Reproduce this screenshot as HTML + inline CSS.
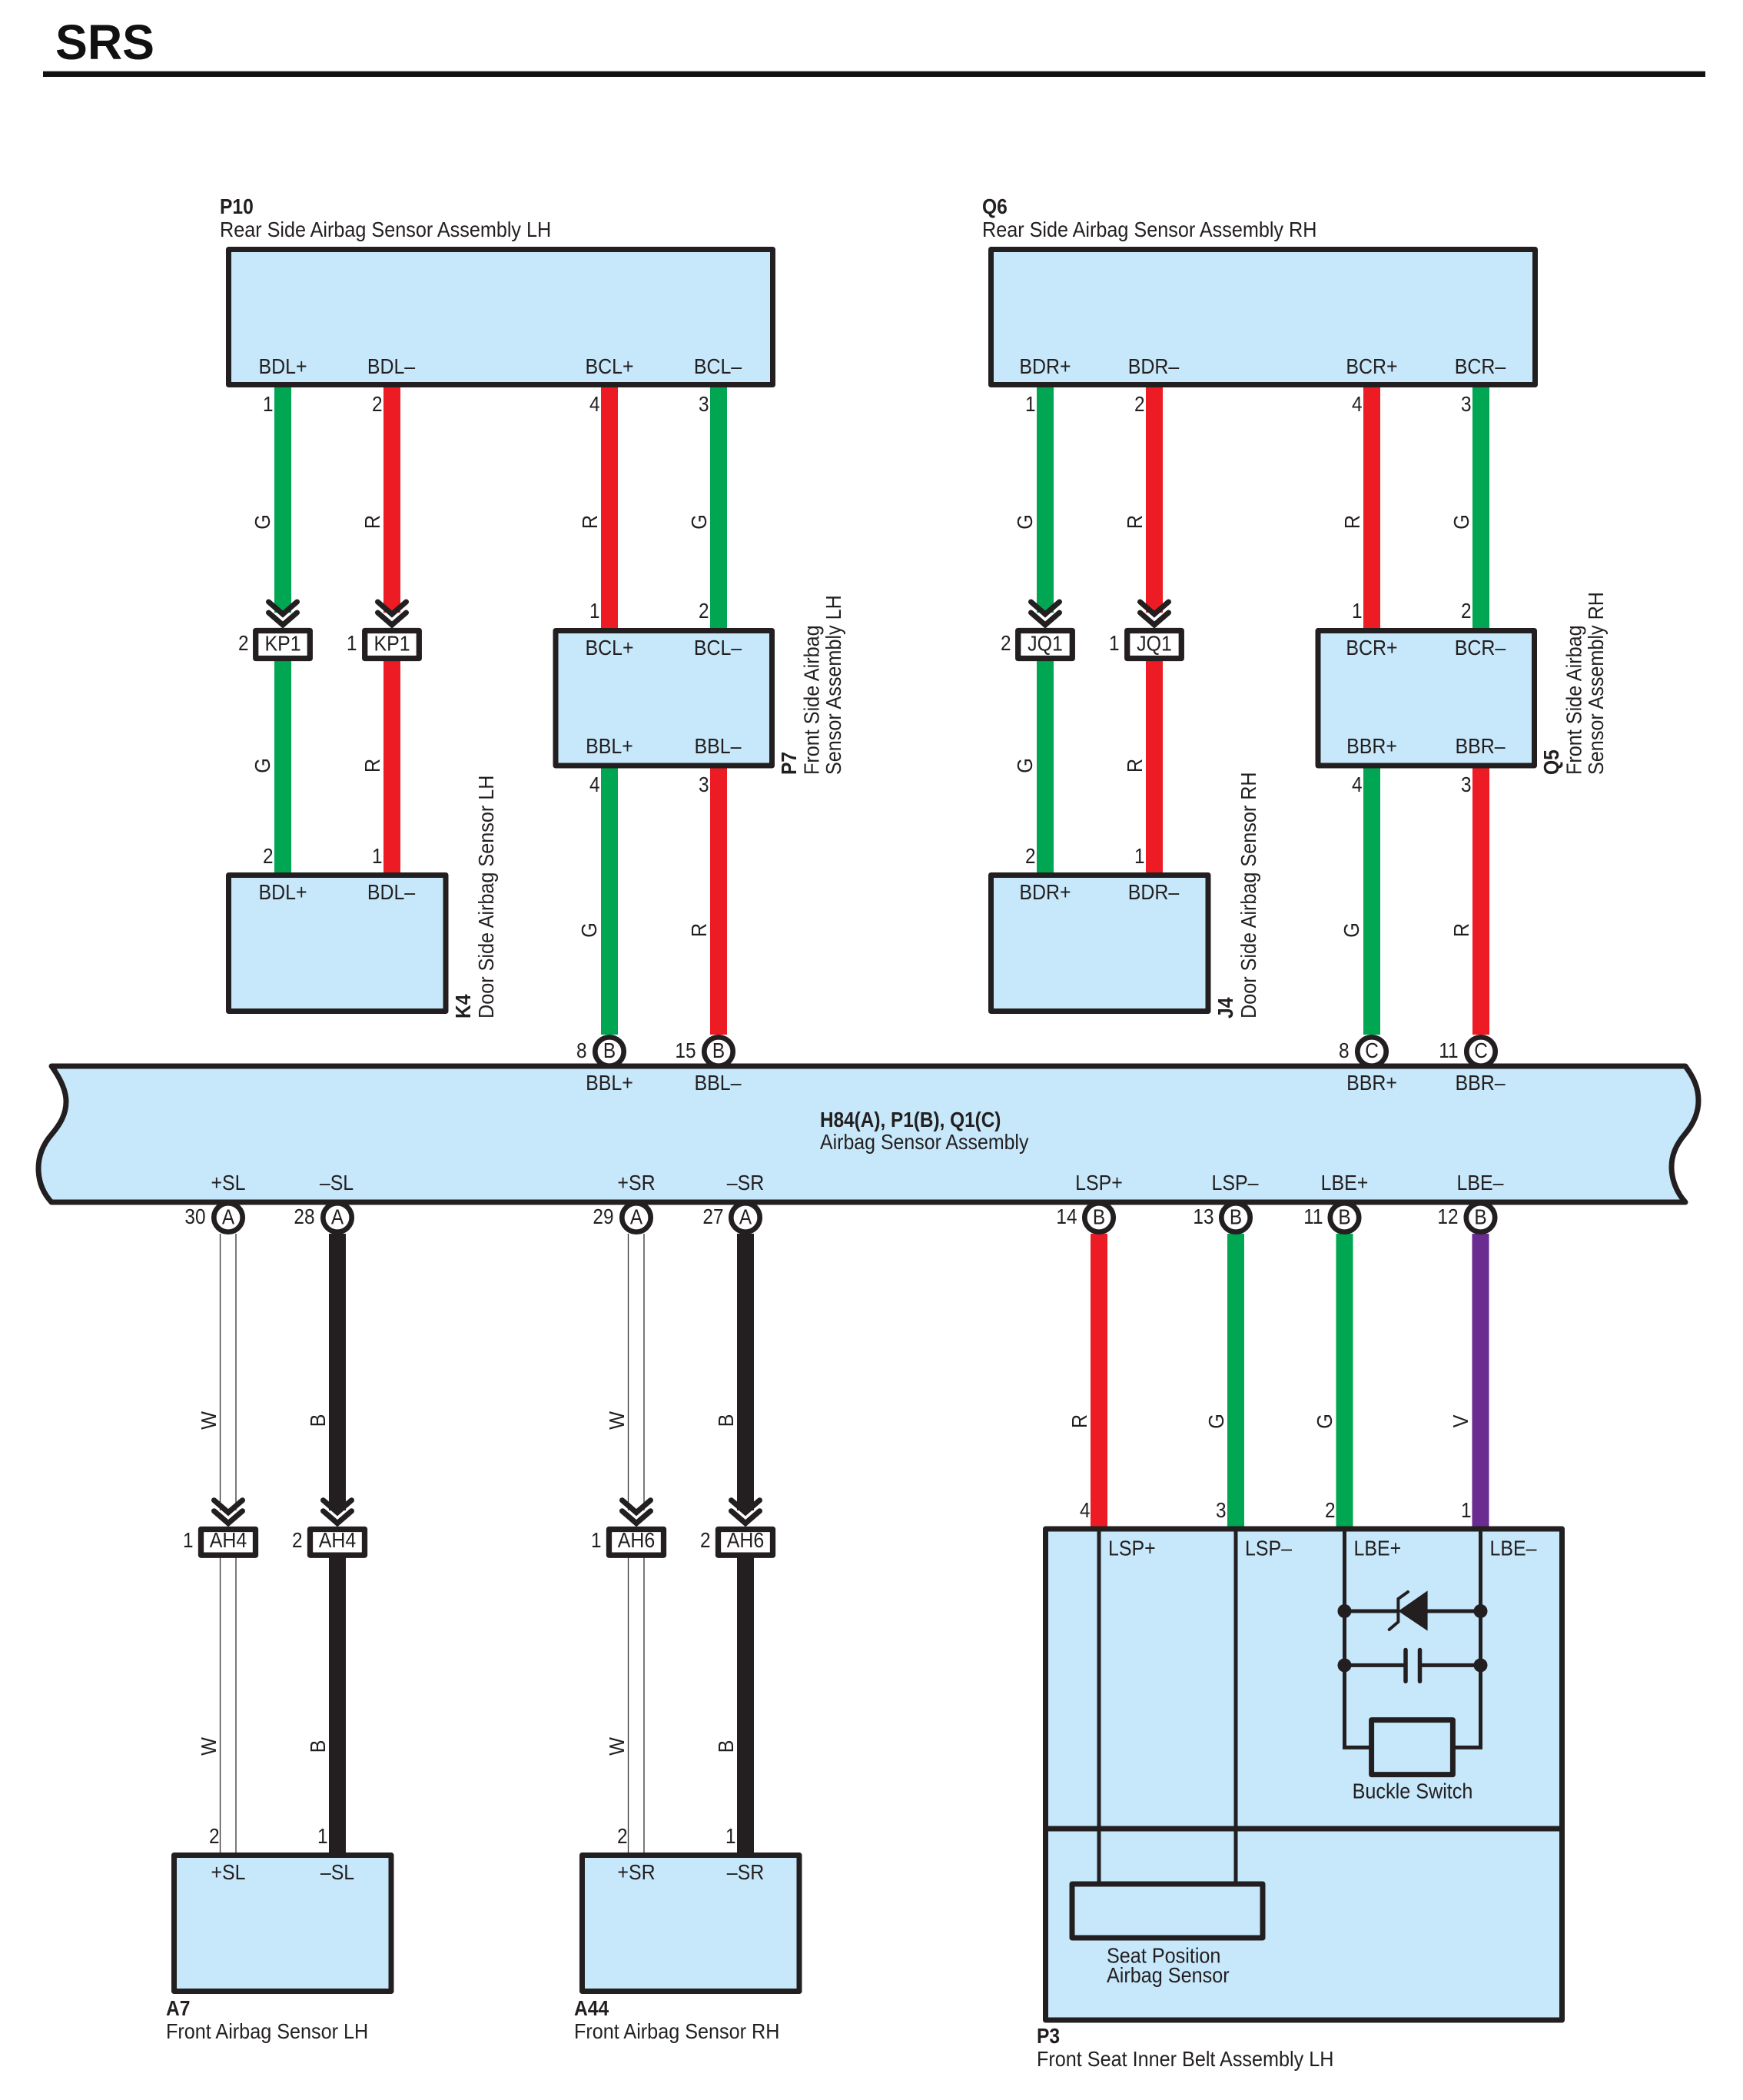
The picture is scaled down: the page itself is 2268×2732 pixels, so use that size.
<!DOCTYPE html>
<html><head><meta charset="utf-8"><title>SRS</title>
<style>
html,body{margin:0;padding:0;background:#fff}
svg{display:block}
text{font-family:"Liberation Sans",sans-serif;font-size:28px;fill:#231f20}
.m{text-anchor:middle}.e{text-anchor:end}.b{font-weight:bold}
.bx{fill:#c7e8fa;stroke:#231f20;stroke-width:7;stroke-linejoin:round}
.cn{fill:#fff;stroke:#231f20;stroke-width:7.3;stroke-linejoin:round}
.t{fill:#fff;stroke:#231f20;stroke-width:6.7}
.g{stroke:#00a651;stroke-width:22}.r{stroke:#ed1c24;stroke-width:22}.k{stroke:#231f20;stroke-width:22}.v{stroke:#6b2c91;stroke-width:22}
.w{stroke:#333;stroke-width:1.3}
.i{stroke:#231f20;stroke-width:5;fill:none}
</style></head><body>
<svg xmlns="http://www.w3.org/2000/svg" width="2268" height="2732" viewBox="0 0 2268 2732">
<defs>
<g id="c" fill="none" stroke="#231f20" stroke-width="7" stroke-linecap="round"><path d="M-18.5 -34L0 -18L18.5 -34"/><path d="M-18.5 -20L0 -4L18.5 -20"/></g>
</defs>
<rect width="2268" height="2732" fill="#fff"/>
<text class="b" transform="matrix(.98 0 0 1 72 77)" style="font-size:64px;fill:#111">SRS</text>
<rect x="56" y="92.7" width="2163" height="7.3" fill="#111"/>

<!-- wires -->
<path class="g" d="M368 504V797M368 860V1135M1360 504V797M1360 860V1135M793 999V1346M935 504V817M1785 999V1346M1927 504V817M1608 1605V1986M1749.5 1605V1986"/>
<path class="r" d="M510 504V797M510 860V1135M1502 504V797M1502 860V1135M793 504V817M935 999V1346M1785 504V817M1927 999V1346M1430 1605V1986"/>
<path class="k" d="M439 1605V1965M439 2026V2410M970 1605V1965M970 2026V2410"/>
<path class="v" d="M1926.5 1605V1986"/>
<path class="w" d="M286.5 1605V1965M307 1605V1965M286.5 2026V2410M307 2026V2410M817.5 1605V1965M838 1605V1965M817.5 2026V2410M838 2026V2410"/>

<!-- chevrons -->
<use href="#c" x="368" y="817"/><use href="#c" x="510" y="817"/><use href="#c" x="1360" y="817"/><use href="#c" x="1502" y="817"/>
<use href="#c" x="297" y="1985.7"/><use href="#c" x="439" y="1985.7"/><use href="#c" x="828" y="1985.7"/><use href="#c" x="970" y="1985.7"/>

<!-- inline connectors -->
<rect class="cn" x="332.7" y="820.5" width="70.6" height="36"/><rect class="cn" x="474.7" y="820.5" width="70.6" height="36"/>
<rect class="cn" x="1324.7" y="820.5" width="70.6" height="36"/><rect class="cn" x="1466.7" y="820.5" width="70.6" height="36"/>
<rect class="cn" x="261.5" y="1989.5" width="71" height="33.7"/><rect class="cn" x="403.5" y="1989.5" width="71" height="33.7"/>
<rect class="cn" x="792.5" y="1989.5" width="71" height="33.7"/><rect class="cn" x="934.5" y="1989.5" width="71" height="33.7"/>

<!-- terminals -->
<circle class="t" cx="793" cy="1368" r="18.7"/><circle class="t" cx="935" cy="1368" r="18.7"/><circle class="t" cx="1785" cy="1368" r="18.7"/><circle class="t" cx="1927" cy="1368" r="18.7"/>
<circle class="t" cx="297" cy="1584" r="18.7"/><circle class="t" cx="439" cy="1584" r="18.7"/><circle class="t" cx="828" cy="1584" r="18.7"/><circle class="t" cx="970" cy="1584" r="18.7"/><circle class="t" cx="1430" cy="1584" r="18.7"/><circle class="t" cx="1608" cy="1584" r="18.7"/><circle class="t" cx="1749.5" cy="1584" r="18.7"/><circle class="t" cx="1926.5" cy="1584" r="18.7"/>

<!-- boxes -->
<rect class="bx" x="297.5" y="324.5" width="708" height="176"/>
<rect class="bx" x="1289.5" y="324.5" width="708" height="176"/>
<rect class="bx" x="723" y="820.5" width="281.5" height="175.5"/>
<rect class="bx" x="1715" y="820.5" width="281.5" height="175.5"/>
<rect class="bx" x="297.5" y="1138.5" width="282.5" height="177"/>
<rect class="bx" x="1289.5" y="1138.5" width="282.5" height="177"/>
<rect class="bx" x="226.5" y="2413.5" width="282.5" height="177"/>
<rect class="bx" x="757.5" y="2413.5" width="282.5" height="177"/>
<path class="bx" d="M67 1387C80 1405 86 1420 86 1433C86 1450 78 1463 67 1476C55 1490 50 1505 50 1520C50 1538 56 1552 67 1564L2193 1564C2182 1552 2175 1535 2175 1518C2175 1503 2181 1489 2192 1476C2203 1463 2210 1449 2210 1432C2210 1415 2204 1402 2193 1387Z"/>

<!-- P3 -->
<rect class="bx" x="1360.5" y="1989" width="672" height="639"/>
<path class="bx" style="fill:none" d="M1360.5 2379H2032.5"/>
<path class="i" d="M1430 1989V2451M1608 1989V2451M1749.5 1989V2273.4H1784.6M1926.5 1989V2273.4H1890.4M1749.5 2096H1819M1857 2096H1926.5M1749.5 2166.4H1829M1847.5 2166.4H1926.5"/>
<rect class="bx" x="1395" y="2451" width="248" height="70"/>
<rect class="bx" x="1784.6" y="2237.6" width="105.8" height="71"/>
<circle cx="1749.5" cy="2096" r="9" fill="#231f20"/><circle cx="1926.5" cy="2096" r="9" fill="#231f20"/><circle cx="1749.5" cy="2166.4" r="9" fill="#231f20"/><circle cx="1926.5" cy="2166.4" r="9" fill="#231f20"/>
<path d="M1857.6 2069.4V2121.6L1819.4 2096Z" fill="#231f20"/>
<path d="M1832 2071L1819.4 2080V2110L1807.7 2120" fill="none" stroke="#231f20" stroke-width="4" stroke-linecap="round"/>
<path d="M1829 2146.5V2187.3M1847.5 2146.5V2187.3" stroke="#231f20" stroke-width="5.5" stroke-linecap="round"/>

<!-- titles -->
<text class="b" transform="matrix(.88 0 0 1 286 278)">P10</text>
<text transform="matrix(.9 0 0 1 286 308)">Rear Side Airbag Sensor Assembly LH</text>
<text class="b" transform="matrix(.88 0 0 1 1278 278)">Q6</text>
<text transform="matrix(.9 0 0 1 1278 308)">Rear Side Airbag Sensor Assembly RH</text>
<text class="b" transform="matrix(.87 0 0 1 1067 1466)">H84(A), P1(B), Q1(C)</text>
<text transform="matrix(.89 0 0 1 1067 1495)">Airbag Sensor Assembly</text>
<text class="b" transform="matrix(.88 0 0 1 216 2622)">A7</text>
<text transform="matrix(.9 0 0 1 216 2652)">Front Airbag Sensor LH</text>
<text class="b" transform="matrix(.88 0 0 1 747 2622)">A44</text>
<text transform="matrix(.9 0 0 1 747 2652)">Front Airbag Sensor RH</text>
<text class="b" transform="matrix(.88 0 0 1 1349 2658)">P3</text>
<text transform="matrix(.9 0 0 1 1349 2688)">Front Seat Inner Belt Assembly LH</text>
<text transform="matrix(.9 0 0 1 1440 2553.5)">Seat Position</text>
<text transform="matrix(.9 0 0 1 1440 2579)">Airbag Sensor</text>
<text class="m" transform="matrix(.9 0 0 1 1838 2339.5)">Buckle Switch</text>

<!-- rotated titles -->
<text class="b" transform="matrix(0 -.88 1 0 612 1325)">K4</text>
<text transform="matrix(0 -.9 1 0 642 1325)">Door Side Airbag Sensor LH</text>
<text class="b" transform="matrix(0 -.88 1 0 1604 1325)">J4</text>
<text transform="matrix(0 -.9 1 0 1634 1325)">Door Side Airbag Sensor RH</text>
<text class="b" transform="matrix(0 -.88 1 0 1036 1008)">P7</text>
<text transform="matrix(0 -.9 1 0 1065.5 1008)">Front Side Airbag</text>
<text transform="matrix(0 -.9 1 0 1094 1008)">Sensor Assembly LH</text>
<text class="b" transform="matrix(0 -.88 1 0 2028 1008)">Q5</text>
<text transform="matrix(0 -.9 1 0 2057.5 1008)">Front Side Airbag</text>
<text transform="matrix(0 -.9 1 0 2086 1008)">Sensor Assembly RH</text>

<!-- signal labels, top boxes -->
<g class="m">
<text class="m" transform="matrix(.89 0 0 1 368 486)">BDL+</text><text class="m" transform="matrix(.89 0 0 1 509 486)">BDL–</text><text class="m" transform="matrix(.89 0 0 1 793 486)">BCL+</text><text class="m" transform="matrix(.89 0 0 1 934 486)">BCL–</text>
<text class="m" transform="matrix(.89 0 0 1 1360 486)">BDR+</text><text class="m" transform="matrix(.89 0 0 1 1501 486)">BDR–</text><text class="m" transform="matrix(.89 0 0 1 1785 486)">BCR+</text><text class="m" transform="matrix(.89 0 0 1 1926 486)">BCR–</text>
<text class="m" transform="matrix(.89 0 0 1 793 852)">BCL+</text><text class="m" transform="matrix(.89 0 0 1 934 852)">BCL–</text><text class="m" transform="matrix(.89 0 0 1 793 980)">BBL+</text><text class="m" transform="matrix(.89 0 0 1 934 980)">BBL–</text>
<text class="m" transform="matrix(.89 0 0 1 1785 852)">BCR+</text><text class="m" transform="matrix(.89 0 0 1 1926 852)">BCR–</text><text class="m" transform="matrix(.89 0 0 1 1785 980)">BBR+</text><text class="m" transform="matrix(.89 0 0 1 1926 980)">BBR–</text>
<text class="m" transform="matrix(.89 0 0 1 368 1170)">BDL+</text><text class="m" transform="matrix(.89 0 0 1 509 1170)">BDL–</text><text class="m" transform="matrix(.89 0 0 1 1360 1170)">BDR+</text><text class="m" transform="matrix(.89 0 0 1 1501 1170)">BDR–</text>
<text class="m" transform="matrix(.89 0 0 1 793 1418)">BBL+</text><text class="m" transform="matrix(.89 0 0 1 934 1418)">BBL–</text><text class="m" transform="matrix(.89 0 0 1 1785 1418)">BBR+</text><text class="m" transform="matrix(.89 0 0 1 1926 1418)">BBR–</text>
<text class="m" transform="matrix(.89 0 0 1 297 1548)">+SL</text><text class="m" transform="matrix(.89 0 0 1 438 1548)">–SL</text><text class="m" transform="matrix(.89 0 0 1 828 1548)">+SR</text><text class="m" transform="matrix(.89 0 0 1 970 1548)">–SR</text>
<text class="m" transform="matrix(.89 0 0 1 1430 1548)">LSP+</text><text class="m" transform="matrix(.89 0 0 1 1607 1548)">LSP–</text><text class="m" transform="matrix(.89 0 0 1 1749.5 1548)">LBE+</text><text class="m" transform="matrix(.89 0 0 1 1926 1548)">LBE–</text>
<text class="m" transform="matrix(.89 0 0 1 297 2445)">+SL</text><text class="m" transform="matrix(.89 0 0 1 439 2445)">–SL</text><text class="m" transform="matrix(.89 0 0 1 828 2445)">+SR</text><text class="m" transform="matrix(.89 0 0 1 970 2445)">–SR</text>
<!-- connector names -->
<text class="m" transform="matrix(.89 0 0 1 368 846.5)">KP1</text><text class="m" transform="matrix(.89 0 0 1 510 846.5)">KP1</text><text class="m" transform="matrix(.89 0 0 1 1360 846.5)">JQ1</text><text class="m" transform="matrix(.89 0 0 1 1502 846.5)">JQ1</text>
<text class="m" transform="matrix(.89 0 0 1 297 2013)">AH4</text><text class="m" transform="matrix(.89 0 0 1 439 2013)">AH4</text><text class="m" transform="matrix(.89 0 0 1 828 2013)">AH6</text><text class="m" transform="matrix(.89 0 0 1 970 2013)">AH6</text>
<!-- terminal letters -->
<text class="m" transform="matrix(.87 0 0 1 793 1376)">B</text><text class="m" transform="matrix(.87 0 0 1 935 1376)">B</text><text class="m" transform="matrix(.87 0 0 1 1785 1376)">C</text><text class="m" transform="matrix(.87 0 0 1 1927 1376)">C</text>
<text class="m" transform="matrix(.87 0 0 1 297 1592.5)">A</text><text class="m" transform="matrix(.87 0 0 1 439 1592.5)">A</text><text class="m" transform="matrix(.87 0 0 1 828 1592.5)">A</text><text class="m" transform="matrix(.87 0 0 1 970 1592.5)">A</text><text class="m" transform="matrix(.87 0 0 1 1430 1592.5)">B</text><text class="m" transform="matrix(.87 0 0 1 1608 1592.5)">B</text><text class="m" transform="matrix(.87 0 0 1 1749.5 1592.5)">B</text><text class="m" transform="matrix(.87 0 0 1 1926.5 1592.5)">B</text>
</g>

<!-- P3 labels -->
<text transform="matrix(.89 0 0 1 1442 2023.5)">LSP+</text><text transform="matrix(.89 0 0 1 1620 2023.5)">LSP–</text><text transform="matrix(.89 0 0 1 1761.5 2023.5)">LBE+</text><text transform="matrix(.89 0 0 1 1938.5 2023.5)">LBE–</text>

<!-- pin numbers -->
<g transform="translate(1.5 0)">
<text class="e" transform="matrix(.87 0 0 1 354 535)">1</text><text class="e" transform="matrix(.87 0 0 1 496 535)">2</text><text class="e" transform="matrix(.87 0 0 1 779 535)">4</text><text class="e" transform="matrix(.87 0 0 1 921 535)">3</text>
<text class="e" transform="matrix(.87 0 0 1 1346 535)">1</text><text class="e" transform="matrix(.87 0 0 1 1488 535)">2</text><text class="e" transform="matrix(.87 0 0 1 1771 535)">4</text><text class="e" transform="matrix(.87 0 0 1 1913 535)">3</text>
<text class="e" transform="matrix(.87 0 0 1 779 804)">1</text><text class="e" transform="matrix(.87 0 0 1 921 804)">2</text><text class="e" transform="matrix(.87 0 0 1 1771 804)">1</text><text class="e" transform="matrix(.87 0 0 1 1913 804)">2</text>
<text class="e" transform="matrix(.87 0 0 1 322 846)">2</text><text class="e" transform="matrix(.87 0 0 1 463 846)">1</text><text class="e" transform="matrix(.87 0 0 1 1314 846)">2</text><text class="e" transform="matrix(.87 0 0 1 1455 846)">1</text>
<text class="e" transform="matrix(.87 0 0 1 779 1030)">4</text><text class="e" transform="matrix(.87 0 0 1 921 1030)">3</text><text class="e" transform="matrix(.87 0 0 1 1771 1030)">4</text><text class="e" transform="matrix(.87 0 0 1 1913 1030)">3</text>
<text class="e" transform="matrix(.87 0 0 1 354 1123)">2</text><text class="e" transform="matrix(.87 0 0 1 496 1123)">1</text><text class="e" transform="matrix(.87 0 0 1 1346 1123)">2</text><text class="e" transform="matrix(.87 0 0 1 1488 1123)">1</text>
<text class="e" transform="matrix(.87 0 0 1 762 1376)">8</text><text class="e" transform="matrix(.87 0 0 1 904 1376)">15</text><text class="e" transform="matrix(.87 0 0 1 1754 1376)">8</text><text class="e" transform="matrix(.87 0 0 1 1896 1376)">11</text>
<text class="e" transform="matrix(.87 0 0 1 266 1592)">30</text><text class="e" transform="matrix(.87 0 0 1 408 1592)">28</text><text class="e" transform="matrix(.87 0 0 1 797 1592)">29</text><text class="e" transform="matrix(.87 0 0 1 940 1592)">27</text>
<text class="e" transform="matrix(.87 0 0 1 1400 1592)">14</text><text class="e" transform="matrix(.87 0 0 1 1578 1592)">13</text><text class="e" transform="matrix(.87 0 0 1 1720 1592)">11</text><text class="e" transform="matrix(.87 0 0 1 1896 1592)">12</text>
<text class="e" transform="matrix(.87 0 0 1 1417 1974)">4</text><text class="e" transform="matrix(.87 0 0 1 1594 1974)">3</text><text class="e" transform="matrix(.87 0 0 1 1736 1974)">2</text><text class="e" transform="matrix(.87 0 0 1 1913 1974)">1</text>
<text class="e" transform="matrix(.87 0 0 1 250 2013)">1</text><text class="e" transform="matrix(.87 0 0 1 392 2013)">2</text><text class="e" transform="matrix(.87 0 0 1 781 2013)">1</text><text class="e" transform="matrix(.87 0 0 1 923 2013)">2</text>
<text class="e" transform="matrix(.87 0 0 1 284 2398)">2</text><text class="e" transform="matrix(.87 0 0 1 425 2398)">1</text><text class="e" transform="matrix(.87 0 0 1 815 2398)">2</text><text class="e" transform="matrix(.87 0 0 1 956 2398)">1</text>
</g>

<!-- wire colour labels -->
<g transform="translate(-1 0)">
<text class="m" transform="matrix(0 -.9 1 0 352 679)">G</text><text class="m" transform="matrix(0 -.9 1 0 495 679)">R</text><text class="m" transform="matrix(0 -.9 1 0 778 679)">R</text><text class="m" transform="matrix(0 -.9 1 0 920 679)">G</text>
<text class="m" transform="matrix(0 -.9 1 0 1344 679)">G</text><text class="m" transform="matrix(0 -.9 1 0 1487 679)">R</text><text class="m" transform="matrix(0 -.9 1 0 1770 679)">R</text><text class="m" transform="matrix(0 -.9 1 0 1912 679)">G</text>
<text class="m" transform="matrix(0 -.9 1 0 352 996)">G</text><text class="m" transform="matrix(0 -.9 1 0 495 996)">R</text><text class="m" transform="matrix(0 -.9 1 0 1344 996)">G</text><text class="m" transform="matrix(0 -.9 1 0 1487 996)">R</text>
<text class="m" transform="matrix(0 -.9 1 0 777 1210)">G</text><text class="m" transform="matrix(0 -.9 1 0 920 1210)">R</text><text class="m" transform="matrix(0 -.9 1 0 1769 1210)">G</text><text class="m" transform="matrix(0 -.9 1 0 1912 1210)">R</text>
<text class="m" transform="matrix(0 -.9 1 0 282 1848)">W</text><text class="m" transform="matrix(0 -.9 1 0 424 1848)">B</text><text class="m" transform="matrix(0 -.9 1 0 813 1848)">W</text><text class="m" transform="matrix(0 -.9 1 0 955 1848)">B</text>
<text class="m" transform="matrix(0 -.9 1 0 1415 1849)">R</text><text class="m" transform="matrix(0 -.9 1 0 1593 1849)">G</text><text class="m" transform="matrix(0 -.9 1 0 1734 1849)">G</text><text class="m" transform="matrix(0 -.9 1 0 1911 1849)">V</text>
<text class="m" transform="matrix(0 -.9 1 0 282 2272)">W</text><text class="m" transform="matrix(0 -.9 1 0 424 2272)">B</text><text class="m" transform="matrix(0 -.9 1 0 813 2272)">W</text><text class="m" transform="matrix(0 -.9 1 0 955 2272)">B</text>
</g>
</svg>
</body></html>
